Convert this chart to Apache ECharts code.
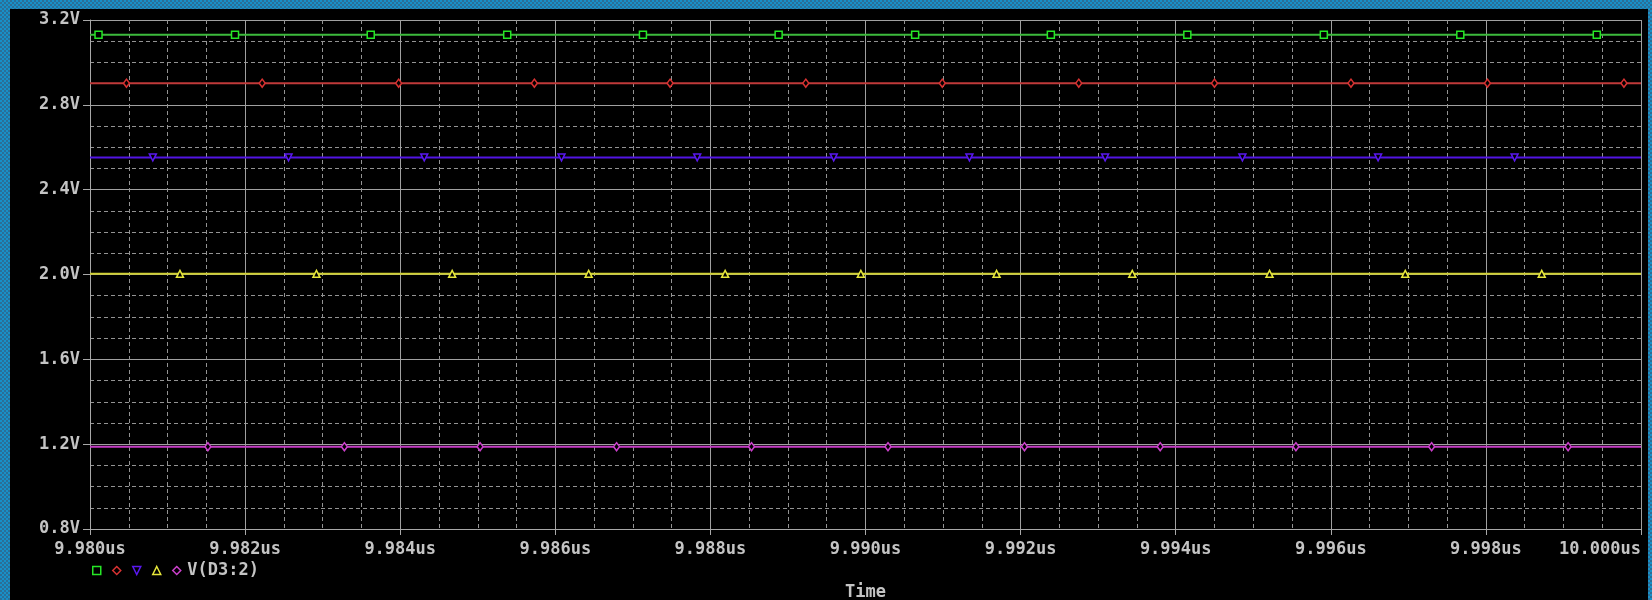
<!DOCTYPE html>
<html>
<head>
<meta charset="utf-8">
<script src="https://cdn.jsdelivr.net/npm/echarts@6/dist/echarts.min.js"></script>
<style>
  html, body { margin: 0; padding: 0; }
  body {
    width: 1652px; height: 600px; position: relative; overflow: hidden;
    background-color: #1890c8;
    background-image:
      linear-gradient(45deg, #2a6f98 25%, transparent 25%, transparent 75%, #2a6f98 75%),
      linear-gradient(45deg, #2a6f98 25%, transparent 25%, transparent 75%, #2a6f98 75%);
    background-size: 4px 4px;
    background-position: 0 0, 2px 2px;
  }
  #chart { position: absolute; left: 10px; top: 9px; width: 1638px; height: 591px; background: #000; }
</style>
</head>
<body>
<div id="chart"></div>
<script>
// X axis in ns (labels shown as us), Y axis in volts
const xMin = 9980, xMax = 10000, xInterval = 2;
const yMin = 0.8, yMax = 3.2, yInterval = 0.4;

// Series levels (V)
const greenLevel = 3.131;
const redLevel = 2.902;
const blueLevel = 2.552;
const yellowLevel = 2.003;
const magentaLevel = 1.188;

// Marker times (us)
const greenMarkers = [9.98011, 9.98187, 9.98362, 9.98538, 9.98713, 9.98888, 9.99064, 9.99239, 9.99415, 9.99591, 9.99767, 9.99943];
const redMarkers = [9.98047, 9.98222, 9.98398, 9.98573, 9.98748, 9.98923, 9.99099, 9.99275, 9.99450, 9.99626, 9.99802, 9.99978];
const blueMarkers = [9.98081, 9.98256, 9.98431, 9.98608, 9.98783, 9.98959, 9.99134, 9.99309, 9.99486, 9.99661, 9.99837];
const yellowMarkers = [9.98116, 9.98292, 9.98467, 9.98643, 9.98819, 9.98994, 9.99169, 9.99344, 9.99521, 9.99696, 9.99872];
const magentaMarkers = [9.98152, 9.98328, 9.98503, 9.98679, 9.98853, 9.99029, 9.99205, 9.99380, 9.99555, 9.99730, 9.99906];

const seriesNames = ['s1', 's2', 's3', 's4', 'V(D3:2)'];
const legendLabel = 'V(D3:2)';

const triDown = 'path://M0,0 L10,0 L5,10 Z';
const triUp = 'path://M5,0 L10,10 L0,10 Z';

const defs = [
  { name: seriesNames[0], level: greenLevel, marks: greenMarkers, line: '#3cba3c', mark: '#26e626', symbol: 'rect', size: [7, 7] },
  { name: seriesNames[1], level: redLevel, marks: redMarkers, line: '#c03a3a', mark: '#d83232', symbol: 'diamond', size: [6, 8] },
  { name: seriesNames[2], level: blueLevel, marks: blueMarkers, line: '#5214e4', mark: '#5a18f0', symbol: triDown, size: [7, 7] },
  { name: seriesNames[3], level: yellowLevel, marks: yellowMarkers, line: '#d0d034', mark: '#e6e63a', symbol: triUp, size: [7, 7] },
  { name: seriesNames[4], level: magentaLevel, marks: magentaMarkers, line: '#c43cc4', mark: '#cc40cc', symbol: 'diamond', size: [6, 8] }
];

const series = defs.map(d => {
  const data = [{ value: [xMin, d.level], symbolSize: 0 }];
  d.marks.forEach(t => data.push({ value: [t * 1000, d.level] }));
  data.push({ value: [xMax, d.level], symbolSize: 0 });
  return {
    name: d.name,
    type: 'line',
    data: data,
    symbol: d.symbol,
    symbolSize: d.size,
    showSymbol: true,
    showAllSymbol: true,
    lineStyle: { color: d.line, width: 2 },
    itemStyle: { color: '#000', borderColor: d.mark, borderWidth: 1.5 },
    emphasis: { disabled: true },
    silent: true,
    z: 3
  };
});

const chart = echarts.init(document.getElementById('chart'), null, { renderer: 'canvas' });
const fontFam = '"DejaVu Sans Mono", "Liberation Mono", monospace';
chart.setOption({
  backgroundColor: '#000',
  animation: false,
  grid: { left: 80, top: 11, width: 1551, height: 509, containLabel: false, outerBoundsMode: 'none' },
  legend: {
    left: 77, top: 548,
    itemWidth: 8, itemHeight: 8, itemGap: 10.5,
    selectedMode: false,
    formatter: name => (name === legendLabel ? name : ''),
    textStyle: { color: '#c4c4c4', fontFamily: fontFam, fontSize: 17, fontWeight: 'bold', padding: [0, 0, 0, 1.5] },
    data: defs.map(d => ({
      name: d.name,
      icon: d.symbol,
      itemStyle: { color: '#000', borderColor: d.mark, borderWidth: 1.5 }
    }))
  },
  xAxis: {
    type: 'value',
    min: xMin, max: xMax, interval: xInterval,
    name: 'Time',
    nameLocation: 'middle',
    nameGap: 55,
    nameTextStyle: { color: '#c4c4c4', fontFamily: fontFam, fontSize: 17, fontWeight: 'bold' },
    axisLine: { show: true, lineStyle: { color: '#a8a8a8', width: 1 } },
    axisTick: { show: true, length: 6, lineStyle: { color: '#a8a8a8' } },
    axisLabel: {
      color: '#c4c4c4', fontFamily: fontFam, fontSize: 17, fontWeight: 'bold', margin: 12,
      alignMaxLabel: 'right',
      formatter: v => (v / 1000).toFixed(3) + 'us'
    },
    splitLine: { show: true, lineStyle: { color: '#a0a0a0', width: 1 } },
    minorTick: { show: false, splitNumber: 4 },
    minorSplitLine: { show: true, lineStyle: { color: '#939393', width: 1, type: [4, 3] } }
  },
  yAxis: {
    type: 'value',
    min: yMin, max: yMax, interval: yInterval,
    axisLine: { show: true, lineStyle: { color: '#a8a8a8', width: 1 } },
    axisTick: { show: true, length: 7, lineStyle: { color: '#a8a8a8' } },
    axisLabel: {
      color: '#c4c4c4', fontFamily: fontFam, fontSize: 17, fontWeight: 'bold', margin: 10,
      formatter: v => v.toFixed(1) + 'V'
    },
    splitLine: { show: true, lineStyle: { color: '#a0a0a0', width: 1 } },
    minorTick: { show: false, splitNumber: 4 },
    minorSplitLine: { show: true, lineStyle: { color: '#939393', width: 1, type: [4, 3] } }
  },
  series: series
});
</script>
</body>
</html>
